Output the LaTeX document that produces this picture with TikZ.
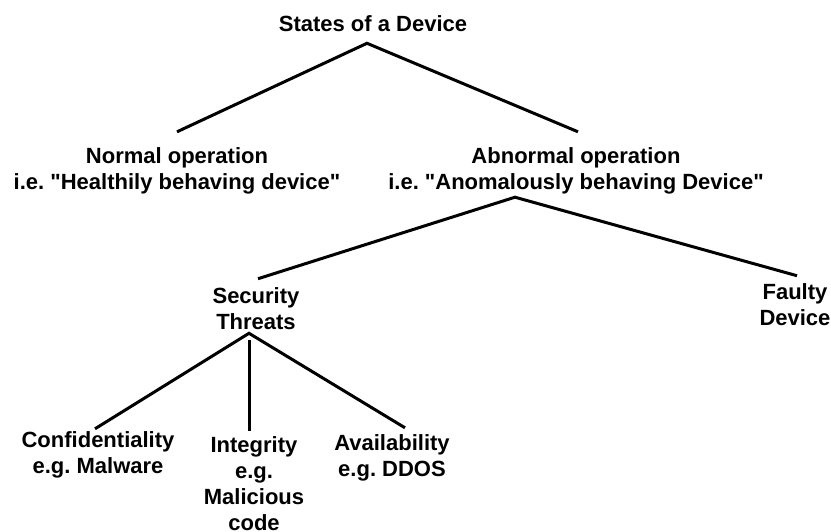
\documentclass[tikz,border=0pt]{standalone}
\usepackage{fontspec}
\setmainfont{Liberation Sans}
\begin{document}
\frenchspacing
\begin{tikzpicture}[x=1pt,y=1pt,
  lbl/.style={inner sep=0pt, align=center, font=\bfseries\fontsize{22}{26}\selectfont\frenchspacing},
  conn/.style={line width=3pt, line cap=butt}]
\useasboundingbox[fill=white] (0,0) rectangle (831,-531);
\node[lbl] (root) at (373,-24) {States of a Device};
\node[lbl] (normal) at (177,-171) {Normal operation\\i.e. \textquotedbl Healthily behaving device\textquotedbl};
\node[lbl] (abnormal) at (576,-171) {Abnormal operation\\i.e. \textquotedbl Anomalously behaving Device\textquotedbl};
\node[lbl] (security) at (256,-309) {Security\\Threats};
\node[lbl] (faulty) at (795,-305) {Faulty\\Device};
\node[lbl] (conf) at (98,-455) {Confidentiality\\e.g. Malware};
\node[lbl] (integ) at (254,-484) {Integrity\\e.g.\\Malicious\\code};
\node[lbl] (avail) at (392,-458) {Availability\\e.g. DDOS};
\draw[conn] ([shift={(0,15.7)}]normal.north) -- ([shift={(-6,-11)}]root.south) -- ([shift={(2,15.7)}]abnormal.north);
\draw[conn] ([shift={(2,9)}]security.north) -- ([shift={(-61,-2.7)}]abnormal.south) -- ([shift={(2,8)}]faulty.north);
\draw[conn] ([shift={(-3,2.7)}]conf.north) -- ([shift={(-7,-3)}]security.south) -- ([shift={(13,6.7)}]avail.north);
\draw[conn] ([shift={(-7,-10)}]security.south) -- ([shift={(-5,6)}]integ.north);
\end{tikzpicture}
\end{document}
